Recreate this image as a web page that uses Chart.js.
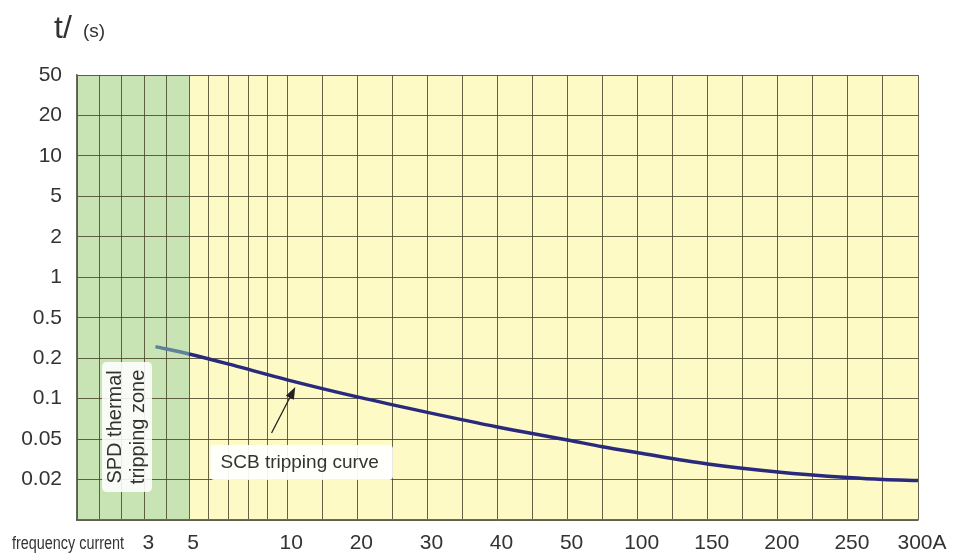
<!DOCTYPE html>
<html><head><meta charset="utf-8">
<script src="https://cdn.jsdelivr.net/npm/chart.js@4.4.0/dist/chart.umd.min.js"></script>
<style>html,body{margin:0;padding:0;background:#fff;} #wrap{width:960px;height:557px;}</style>
</head><body><div id="wrap"><canvas id="c" width="960" height="557"></canvas></div>
<script>
// ---- data ----
const currentLabels = [3, 5, 10, 20, 30, 40, 50, 100, 150, 200, 250, 300];
const gridCurrents = [1,2,3,4,5,6,7,8,9,10,15,20,25,30,35,40,45,50,75,100,125,150,175,200,225,250,275,300];
const timeLabels = ['0.02','0.05','0.1','0.2','0.5','1','2','5','10','20','50'];
const timeSteps = [0.01,0.02,0.05,0.1,0.2,0.5,1,2,5,10,20,50];
const curveCurrent = [3.5, 5, 7.5, 10, 20, 30, 40, 50, 75, 100, 150, 200, 250, 275, 300];
const curveTime = [0.26, 0.22, 0.173, 0.138, 0.103, 0.079, 0.0615, 0.049, 0.042, 0.0367, 0.0284, 0.0237, 0.0209, 0.0200, 0.0197];
const thermalZoneEnd = 5;
// piecewise axis definition: current (A) -> axis unit
const xAnchors = [[0,0],[5,3.2],[10,6],[50,14],[300,24]];

function xUnit(a){
  for (let i = 1; i < xAnchors.length; i++) {
    const [a0,u0] = xAnchors[i-1], [a1,u1] = xAnchors[i];
    if (a <= a1 || i === xAnchors.length-1) return u0 + (a-a0)*(u1-u0)/(a1-a0);
  }
}
function yUnit(t){
  for (let i = 1; i < timeSteps.length; i++) {
    if (t <= timeSteps[i] || i === timeSteps.length-1)
      return (i-1) + Math.log(t/timeSteps[i-1]) / Math.log(timeSteps[i]/timeSteps[i-1]);
  }
}

const FONT = "'Liberation Sans', Arial, Helvetica, sans-serif";
const yellow = 'rgb(253,250,198)';
const green = 'rgb(200,228,180)';
const gridColor = 'rgba(75,72,45,0.85)';
const curveDark = '#2a2a7c';
const curveLight = '#5f819a';

const bgPlugin = {
  id: 'bg',
  beforeDraw(chart){
    const {ctx, chartArea:a, scales:{x}} = chart;
    ctx.save();
    ctx.fillStyle = yellow;
    ctx.fillRect(a.left, a.top, a.width, a.height);
    const gx = x.getPixelForValue(xUnit(thermalZoneEnd));
    ctx.fillStyle = green;
    ctx.fillRect(a.left, a.top, gx - a.left, a.height);
    ctx.restore();
  },
  afterDraw(chart){
    const {ctx, chartArea:a, scales:{x, y}} = chart;
    const px = c => x.getPixelForValue(xUnit(c));
    const py = t => y.getPixelForValue(yUnit(t));
    ctx.save();
    // SPD thermal tripping zone label
    const sx = px(2.23), sy = py(0.0616);
    ctx.fillStyle = 'rgba(255,255,255,0.88)';
    roundRect(ctx, sx-25, sy-65, 50, 130, 5); ctx.fill();
    ctx.translate(sx, sy);
    ctx.rotate(-Math.PI/2);
    ctx.fillStyle = '#333';
    ctx.font = '20px ' + FONT;
    ctx.textAlign = 'center'; ctx.textBaseline = 'middle';
    ctx.fillText('SPD thermal', 0, -12);
    ctx.fillText('tripping zone', 0, 11);
    ctx.restore();

    // SCB tripping curve label
    ctx.save();
    ctx.font = '19px ' + FONT;
    const tx = px(6.6), ty = py(0.0297);
    const w = ctx.measureText('SCB tripping curve').width;
    ctx.fillStyle = 'rgba(255,255,255,0.92)';
    roundRect(ctx, tx-10, ty-17, w+24, 35, 4); ctx.fill();
    ctx.fillStyle = '#333';
    ctx.textBaseline = 'middle';
    ctx.fillText('SCB tripping curve', tx, ty+1);
    // arrow
    const ax0 = px(9.2), ay0 = py(0.0555), ax1 = px(11.15), ay1 = py(0.122);
    ctx.strokeStyle = '#222'; ctx.fillStyle = '#222'; ctx.lineWidth = 1.3;
    const ang = Math.atan2(ay1-ay0, ax1-ax0);
    const hl = 12, hw = 4.5;
    ctx.beginPath(); ctx.moveTo(ax0, ay0);
    ctx.lineTo(ax1 - hl*0.8*Math.cos(ang), ay1 - hl*0.8*Math.sin(ang)); ctx.stroke();
    ctx.beginPath();
    ctx.moveTo(ax1, ay1);
    ctx.lineTo(ax1 - hl*Math.cos(ang) + hw*Math.sin(ang), ay1 - hl*Math.sin(ang) - hw*Math.cos(ang));
    ctx.lineTo(ax1 - hl*Math.cos(ang) - hw*Math.sin(ang), ay1 - hl*Math.sin(ang) + hw*Math.cos(ang));
    ctx.closePath(); ctx.fill();
    ctx.restore();

    // axis titles
    ctx.save();
    ctx.fillStyle = '#333';
    ctx.textBaseline = 'alphabetic';
    ctx.font = '32px ' + FONT;
    ctx.fillText('t/', 54, 38);
    ctx.font = '19px ' + FONT;
    ctx.fillText('(s)', 83, 37);
    ctx.restore();

    ctx.save();
    ctx.fillStyle = '#333';
    ctx.font = '18px ' + FONT;
    ctx.textBaseline = 'alphabetic';
    const fw = ctx.measureText('frequency current').width;
    ctx.translate(12, 549);
    ctx.scale(112/fw, 1);
    ctx.fillText('frequency current', 0, 0);
    ctx.restore();
  }
};
function roundRect(ctx, x, y, w, h, r){
  ctx.beginPath();
  ctx.moveTo(x+r, y); ctx.lineTo(x+w-r, y); ctx.quadraticCurveTo(x+w, y, x+w, y+r);
  ctx.lineTo(x+w, y+h-r); ctx.quadraticCurveTo(x+w, y+h, x+w-r, y+h);
  ctx.lineTo(x+r, y+h); ctx.quadraticCurveTo(x, y+h, x, y+h-r);
  ctx.lineTo(x, y+r); ctx.quadraticCurveTo(x, y, x+r, y); ctx.closePath();
}

const zoneUnit = xUnit(thermalZoneEnd);
new Chart(document.getElementById('c'), {
  type: 'line',
  data: {
    datasets: [{
      label: 'SCB tripping curve',
      data: curveCurrent.map((c, i) => ({x: xUnit(c), y: yUnit(curveTime[i])})),
      borderColor: curveDark,
      borderWidth: 3.5,
      pointRadius: 0,
      fill: false,
      cubicInterpolationMode: 'monotone',
      segment: { borderColor: ctx => ctx.p1.parsed.x <= zoneUnit + 1e-6 ? curveLight : curveDark }
    }]
  },
  options: {
    responsive: false,
    animation: false,
    devicePixelRatio: 1,
    layout: { padding: { left: 0, top: 75, right: 42, bottom: 0 } },
    plugins: { legend: { display: false }, tooltip: { enabled: false }, title: { display: false } },
    scales: {
      x: {
        type: 'linear', min: 0, max: 24,
        afterBuildTicks: s => { s.ticks = [0, ...gridCurrents].map(c => ({ value: xUnit(c) })); },
        afterFit: s => { s.height = 37; },
        grid: { color: gridColor, lineWidth: 1, drawTicks: false },
        border: { display: true, color: 'rgba(90,90,80,0.9)', width: 1.5 },
        ticks: {
          autoSkip: false, maxRotation: 0, minRotation: 0, padding: 11, labelOffset: 4,
          color: '#333', font: { family: FONT, size: 21 },
          callback: v => {
            const c = currentLabels.find(k => Math.abs(xUnit(k) - v) < 1e-6);
            if (c === undefined) return '';
            return c === 300 ? '300A' : String(c);
          }
        }
      },
      y: {
        type: 'linear', min: 0, max: 11,
        afterFit: s => { s.width = 77; },
        grid: { color: gridColor, lineWidth: 1, drawTicks: false },
        border: { display: true, color: 'rgba(90,90,80,0.9)', width: 1.5 },
        ticks: {
          stepSize: 1, padding: 15, color: '#333', font: { family: FONT, size: 21 },
          callback: v => (v >= 1 && v <= timeLabels.length) ? timeLabels[v-1] : ''
        }
      }
    }
  },
  plugins: [bgPlugin]
});
</script>
</body></html>
